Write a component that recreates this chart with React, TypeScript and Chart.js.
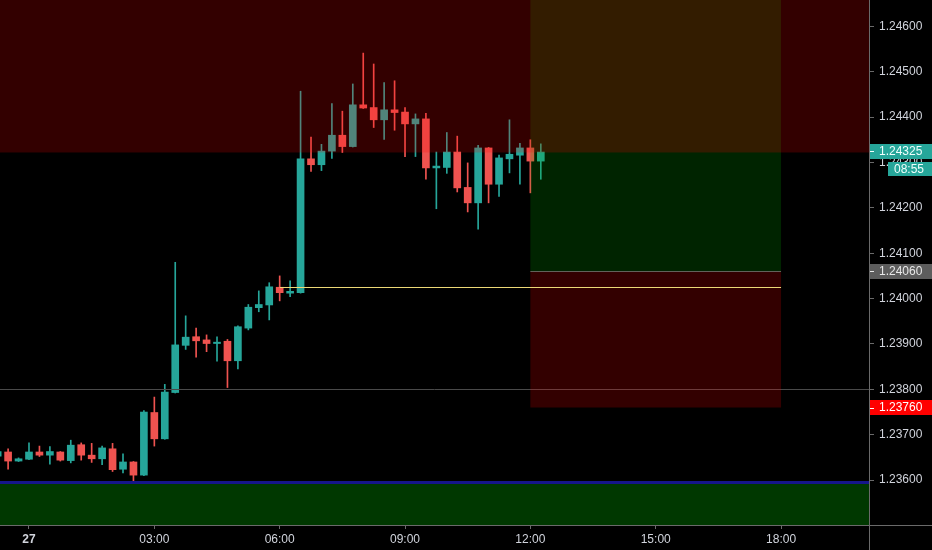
import React, { useEffect, useRef } from "react";
import { Chart, registerables } from "chart.js";
Chart.register(...registerables);

// ---- data ----
const TIMES = [
  "23:15", "23:30", "23:45",
  "00:00", "00:15", "00:30", "00:45", "01:00", "01:15", "01:30", "01:45",
  "02:00", "02:15", "02:30", "02:45", "03:00", "03:15", "03:30", "03:45",
  "04:00", "04:15", "04:30", "04:45", "05:00", "05:15", "05:30", "05:45",
  "06:00", "06:15", "06:30", "06:45", "07:00", "07:15", "07:30", "07:45",
  "08:00", "08:15", "08:30", "08:45", "09:00", "09:15", "09:30", "09:45",
  "10:00", "10:15", "10:30", "10:45", "11:00", "11:15", "11:30", "11:45",
  "12:00", "12:15",
];
const OPEN = [
  1.23653, 1.23662, 1.23642, 1.23646, 1.23662, 1.23655, 1.23662, 1.23643, 1.23678, 1.23655,
  1.23647, 1.23669, 1.23624, 1.2364, 1.23611, 1.23749, 1.23691, 1.23793, 1.23897, 1.23916,
  1.23909, 1.23901, 1.23906, 1.23863, 1.23935, 1.2398, 1.23986, 1.24025, 1.24012, 1.24013,
  1.24308, 1.24295, 1.24325, 1.2436, 1.24335, 1.24427, 1.24421, 1.24394, 1.24416, 1.24411,
  1.24385, 1.24396, 1.24288, 1.24289, 1.24323, 1.24245, 1.24211, 1.24332, 1.24252, 1.24308,
  1.24316, 1.24332, 1.24303,
];
const CLOSE = [
  1.23663, 1.23642, 1.23647, 1.23662, 1.23655, 1.23663, 1.23644, 1.23677, 1.23655, 1.23647,
  1.23671, 1.23623, 1.2364, 1.23611, 1.2375, 1.23691, 1.23794, 1.23898, 1.23915, 1.23907,
  1.23901, 1.23904, 1.23863, 1.23938, 1.23981, 1.23987, 1.24026, 1.24013, 1.24016, 1.24308,
  1.24295, 1.24325, 1.2436, 1.24335, 1.24427, 1.2442, 1.24394, 1.24416, 1.2441, 1.24385,
  1.24396, 1.24288, 1.24292, 1.24323, 1.24244, 1.24211, 1.24332, 1.24252, 1.2431, 1.24318,
  1.24332, 1.24303, 1.24323,
];
const HIGH = [
  1.23665, 1.23669, 1.23649, 1.23682, 1.23675, 1.23674, 1.23663, 1.23688, 1.23682, 1.23681,
  1.23675, 1.23681, 1.23658, 1.23641, 1.23753, 1.23783, 1.23811, 1.2408, 1.23962, 1.23935,
  1.2392, 1.23916, 1.2391, 1.2394, 1.23987, 1.24017, 1.24035, 1.2405, 1.24039, 1.24457,
  1.24356, 1.2434, 1.2443, 1.24413, 1.24473, 1.24541, 1.24517, 1.24476, 1.2448, 1.24421,
  1.24407, 1.24408, 1.24323, 1.24366, 1.24358, 1.24299, 1.24338, 1.24333, 1.24316, 1.24394,
  1.24342, 1.2435, 1.24341,
];
const LOW = [
  1.23651, 1.23624, 1.23641, 1.23645, 1.23652, 1.23635, 1.23642, 1.23638, 1.23644, 1.23639,
  1.23634, 1.23619, 1.23616, 1.23598, 1.2361, 1.23675, 1.2369, 1.23792, 1.23888, 1.23871,
  1.23883, 1.23862, 1.23804, 1.23845, 1.23931, 1.23971, 1.23953, 1.23995, 1.24004, 1.24012,
  1.2428, 1.24282, 1.24309, 1.24322, 1.24334, 1.24419, 1.24377, 1.24351, 1.24371, 1.24313,
  1.24313, 1.24263, 1.24198, 1.24276, 1.24235, 1.24191, 1.24153, 1.24211, 1.24225, 1.24277,
  1.24252, 1.24233, 1.24263,
];

const Y_TICKS = [1.236, 1.237, 1.238, 1.239, 1.24, 1.241, 1.242, 1.243, 1.244, 1.245, 1.246];
const X_TICKS = [0, 3, 6, 9, 12, 15, 18];
const X_LABELS = ["27", "03:00", "06:00", "09:00", "12:00", "15:00", "18:00"];

// levels (prices) and time spans (hours)
const RESIST_ZONE = [1.24322, 1.2475]; // red zone, full width
const SUPPORT_ZONE = [1.2300, 1.23595]; // green zone, full width
const SUPPORT_LINE = [1.23595]; // blue line
const GREY_LEVEL = [1.238];
const POSITION_SPAN = [12.0, 18.0];
const POSITION_TARGET = [1.2406, 1.2475];
const POSITION_STOP = [1.2376, 1.2406];
const ENTRY_LINE = [1.24025];
const ENTRY_SPAN = [6.0, 18.0];
const TAG_VALUES = [1.24325, 1.2406, 1.2376];
const COUNTDOWN = ["08:55"];

// ---- styles ----
const FONT = "'Liberation Sans', Arial, sans-serif";
const UP = "#26a69a";
const DOWN = "#ef5350";
const TEXT = "#d1d4dc";
const AXIS = "#6a6a6a";
const TAG_BG = ["#26a69a", "#5d5d5d", "#ff0000"];
const TAG_FG = ["#f0fffd", "#e8e8e8", "#ffffff"];
const X_MIN = -0.694;
const X_MAX = 20.105;
const Y_MIN = 1.235011;
const Y_MAX = 1.24658;

const toHours = (s: string) => {
  const [h, m] = s.split(":").map(Number);
  let v = h + m / 60;
  if (v > 20) v -= 24;
  return v;
};

const overlayPlugin = {
  id: "overlay",
  afterDatasetsDraw(chart: any) {
    const { ctx, chartArea: a, scales } = chart;
    const xs = scales.x;
    const ys = scales.y;
    const X = (v: number) => xs.getPixelForValue(v);
    const Y = (v: number) => ys.getPixelForValue(v);
    ctx.save();
    ctx.beginPath();
    ctx.rect(a.left, a.top, a.right - a.left, a.bottom - a.top);
    ctx.clip();

    const bx0 = X(POSITION_SPAN[0]);
    const bx1 = X(POSITION_SPAN[1]);

    // grey level line
    const gy = Math.round(Y(GREY_LEVEL[0])) + 0.5;
    ctx.strokeStyle = "#4a4a4a";
    ctx.lineWidth = 1;
    ctx.beginPath();
    ctx.moveTo(a.left, gy);
    ctx.lineTo(a.right, gy);
    ctx.stroke();

    // target (green) box
    ctx.fillStyle = "rgba(0,180,0,0.2)";
    ctx.fillRect(bx0, Y(POSITION_TARGET[1]), bx1 - bx0, Y(POSITION_TARGET[0]) - Y(POSITION_TARGET[1]));
    // stop (red) box
    ctx.fillStyle = "rgba(255,0,0,0.2)";
    ctx.fillRect(bx0, Y(POSITION_STOP[1]), bx1 - bx0, Y(POSITION_STOP[0]) - Y(POSITION_STOP[1]));
    // resistance zone
    ctx.fillRect(a.left, Y(RESIST_ZONE[1]), a.right - a.left, Y(RESIST_ZONE[0]) - Y(RESIST_ZONE[1]));
    // support zone
    ctx.fillStyle = "rgba(0,185,0,0.3)";
    ctx.fillRect(a.left, Y(SUPPORT_ZONE[1]), a.right - a.left, Y(SUPPORT_ZONE[0]) - Y(SUPPORT_ZONE[1]));

    // entry boundary line
    const ey = Math.round(Y(POSITION_STOP[1])) + 0.5;
    ctx.strokeStyle = "#62625a";
    ctx.beginPath();
    ctx.moveTo(bx0, ey);
    ctx.lineTo(bx1, ey);
    ctx.stroke();

    // yellow entry line
    const yy = Math.round(Y(ENTRY_LINE[0])) + 0.5;
    ctx.strokeStyle = "#ecd977";
    ctx.beginPath();
    ctx.moveTo(X(ENTRY_SPAN[0]), yy);
    ctx.lineTo(X(ENTRY_SPAN[1]), yy);
    ctx.stroke();

    // blue support line
    ctx.strokeStyle = "#15158a";
    ctx.lineWidth = 3;
    const by = Y(SUPPORT_LINE[0]);
    ctx.beginPath();
    ctx.moveTo(a.left, by);
    ctx.lineTo(a.right, by);
    ctx.stroke();
    ctx.restore();
  },
  afterDraw(chart: any) {
    const { ctx, chartArea: a, scales } = chart;
    const ys = scales.y;
    const W = chart.width;
    const H = chart.height;
    ctx.save();
    ctx.strokeStyle = AXIS;
    ctx.lineWidth = 1;
    const rx = Math.round(a.right) + 0.5;
    const bt = Math.round(a.bottom) + 0.5;
    ctx.beginPath();
    ctx.moveTo(rx, 0);
    ctx.lineTo(rx, H);
    ctx.moveTo(0, bt);
    ctx.lineTo(W, bt);
    ctx.stroke();

    ctx.font = `12px ${FONT}`;
    ctx.textBaseline = "middle";
    TAG_VALUES.forEach((v, i) => {
      const py = ys.getPixelForValue(v);
      ctx.fillStyle = TAG_BG[i];
      ctx.fillRect(a.right + 1, Math.round(py - 7.5), W - a.right, 15);
      ctx.fillStyle = TAG_FG[i];
      ctx.fillRect(a.right + 1, Math.round(py), 4, 1);
      ctx.textAlign = "left";
      ctx.fillText(v.toFixed(5), a.right + 10, py + 0.5);
    });
    // countdown under the current price tag
    const cy = ys.getPixelForValue(TAG_VALUES[0]) + 18;
    ctx.fillStyle = TAG_BG[0];
    ctx.fillRect(a.right + 19, Math.round(cy - 7), W - a.right - 19, 14);
    ctx.fillStyle = TAG_FG[0];
    ctx.textAlign = "center";
    ctx.fillText(COUNTDOWN[0], a.right + 19 + (W - a.right - 19) / 2 - 1, cy + 0.5);
    ctx.restore();
  },
};

export default function App() {
  const ref = useRef<HTMLCanvasElement>(null);
  useEffect(() => {
    const hours = TIMES.map(toHours);
    const colors = OPEN.map((o, i) => (CLOSE[i] >= o ? UP : DOWN));
    const chart = new Chart(ref.current as HTMLCanvasElement, {
      type: "bar",
      data: {
        datasets: [
          {
            label: "wick",
            data: hours.map((t, i) => ({ x: t, y: [LOW[i], HIGH[i]] })) as any,
            backgroundColor: colors,
            barThickness: 1,
            grouped: false,
            minBarLength: 1,
          } as any,
          {
            label: "body",
            data: hours.map((t, i) => ({ x: t, y: [OPEN[i], CLOSE[i]] })) as any,
            backgroundColor: colors,
            barThickness: 7,
            grouped: false,
            minBarLength: 1,
          } as any,
        ],
      },
      options: {
        responsive: false,
        maintainAspectRatio: false,
        animation: false,
        devicePixelRatio: 1,
        events: [],
        layout: { padding: 0 },
        plugins: { legend: { display: false }, tooltip: { enabled: false } },
        scales: {
          x: {
            type: "linear",
            min: X_MIN,
            max: X_MAX,
            offset: false,
            afterBuildTicks: (s: any) => {
              s.ticks = X_TICKS.map((v) => ({ value: v }));
            },
            afterFit: (s: any) => {
              s.height = 25;
              s.paddingLeft = 0;
              s.paddingRight = 0;
            },
            grid: { drawOnChartArea: false, drawTicks: true, tickLength: 4, color: AXIS, offset: false },
            border: { display: false },
            ticks: {
              color: TEXT,
              padding: 3,
              maxRotation: 0,
              autoSkip: false,
              font: (c: any) => ({
                size: 12,
                family: FONT,
                weight: c.tick && c.tick.value === 0 ? "bold" : "normal",
              }),
              callback: (v: any) => X_LABELS[X_TICKS.indexOf(Number(v))],
            },
          } as any,
          y: {
            type: "linear",
            position: "right",
            min: Y_MIN,
            max: Y_MAX,
            afterBuildTicks: (s: any) => {
              s.ticks = Y_TICKS.map((v) => ({ value: v }));
            },
            afterFit: (s: any) => {
              s.width = 63;
              s.paddingTop = 0;
              s.paddingBottom = 0;
            },
            grid: { drawOnChartArea: false, drawTicks: true, tickLength: 5, color: AXIS },
            border: { display: false },
            ticks: {
              color: TEXT,
              padding: 5,
              font: { size: 12, family: FONT },
              callback: (v: any) => Number(v).toFixed(5),
            },
          } as any,
        },
      },
      plugins: [overlayPlugin],
    });
    return () => chart.destroy();
  }, []);

  return (
    <div style={{ position: "fixed", left: 0, top: 0, width: 932, height: 550, background: "#000" }}>
      <canvas ref={ref} width={932} height={550} style={{ display: "block" }} />
    </div>
  );
}
